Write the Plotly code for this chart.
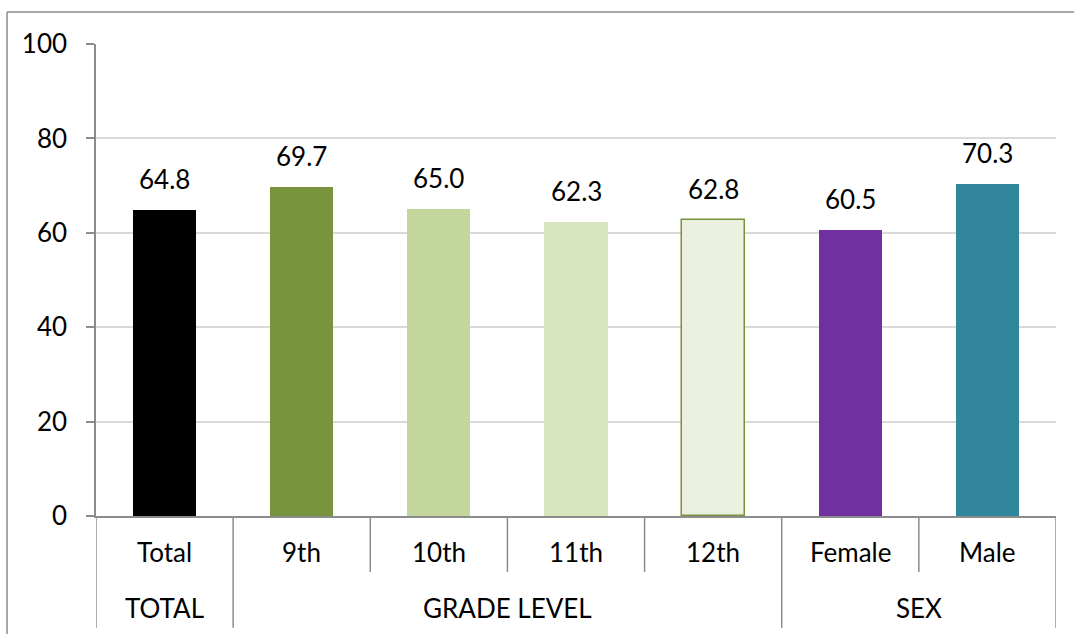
import plotly.graph_objects as go

categories = ["Total", "9th", "10th", "11th", "12th", "Female", "Male"]
groups = ["TOTAL", "GRADE LEVEL", "SEX"]
group_sizes = [1, 4, 2]
values = [64.8, 69.7, 65.0, 62.3, 62.8, 60.5, 70.3]
colors = ["#000000", "#77933C", "#C3D69B", "#D7E4BD", "#EBF1DE", "#7030A0", "#31859C"]
line_colors = ["#000000", "#77933C", "#C3D69B", "#D7E4BD", "#77933C", "#7030A0", "#31859C"]
y_ticks = [0, 20, 40, 60, 80, 100]

FONT = "Lato"
FS = 26
AX = "#8c8c8c"
n = len(categories)
xs = [i + 0.5 for i in range(n)]

fig = go.Figure()
fig.add_trace(go.Bar(
    x=xs, y=values, width=0.46,
    marker=dict(color=colors, line=dict(color=line_colors, width=[0, 0, 0, 0, 1.5, 0, 0])),
    hoverinfo="skip", showlegend=False,
))

annotations = []
for x, v in zip(xs, values):
    annotations.append(dict(x=x, y=v, xref="x", yref="y", text=f"{v:.1f}", showarrow=False,
                            yanchor="bottom", yshift=13, font=dict(family=FONT, size=FS, color="#000")))
for x, c in zip(xs, categories):
    annotations.append(dict(x=x, y=-0.076, xref="x", yref="paper", text=c, showarrow=False,
                            yanchor="middle", font=dict(family=FONT, size=FS, color="#000")))

shapes = []
bounds = [0]
for s in group_sizes:
    bounds.append(bounds[-1] + s)
for gi, g in enumerate(groups):
    cx = (bounds[gi] + bounds[gi + 1]) / 2
    annotations.append(dict(x=cx, y=-0.195, xref="x", yref="paper", text=g, showarrow=False,
                            yanchor="middle", font=dict(family=FONT, size=FS, color="#000")))
for i in range(n + 1):
    y0 = -0.237 if i in bounds else -0.1186
    shapes.append(dict(type="line", xref="x", yref="paper", x0=i, x1=i, y0=0, y1=y0,
                       line=dict(color=AX, width=1.5)))
# outer chart border (left & top)
shapes.append(dict(type="line", xref="paper", yref="paper", x0=-0.0927, x1=-0.0927, y0=1.0678, y1=-0.26,
                   line=dict(color=AX, width=1.5)))
shapes.append(dict(type="line", xref="paper", yref="paper", x0=-0.0927, x1=1.03, y0=1.0678, y1=1.0678,
                   line=dict(color=AX, width=1.5)))

fig.update_layout(
    width=1074, height=634,
    margin=dict(l=96, r=18, t=44, b=118),
    paper_bgcolor="white", plot_bgcolor="white",
    xaxis=dict(range=[0, n], showticklabels=False, showgrid=False, zeroline=False,
               showline=True, linecolor=AX, linewidth=1.5, ticks=""),
    yaxis=dict(range=[0, 100], tickvals=y_ticks, showgrid=True, gridcolor="#d9d9d9", gridwidth=1.5,
               zeroline=False, showline=True, linecolor=AX, linewidth=1.5,
               ticks="outside", ticklen=8, tickcolor=AX, tickwidth=1.5,
               tickfont=dict(family=FONT, size=FS, color="#000"), ticklabelstandoff=14),
    annotations=annotations, shapes=shapes, bargap=0,
)
fig.write_html("out.html", config={"displayModeBar": False},
               post_script="document.body.style.margin='0';")
